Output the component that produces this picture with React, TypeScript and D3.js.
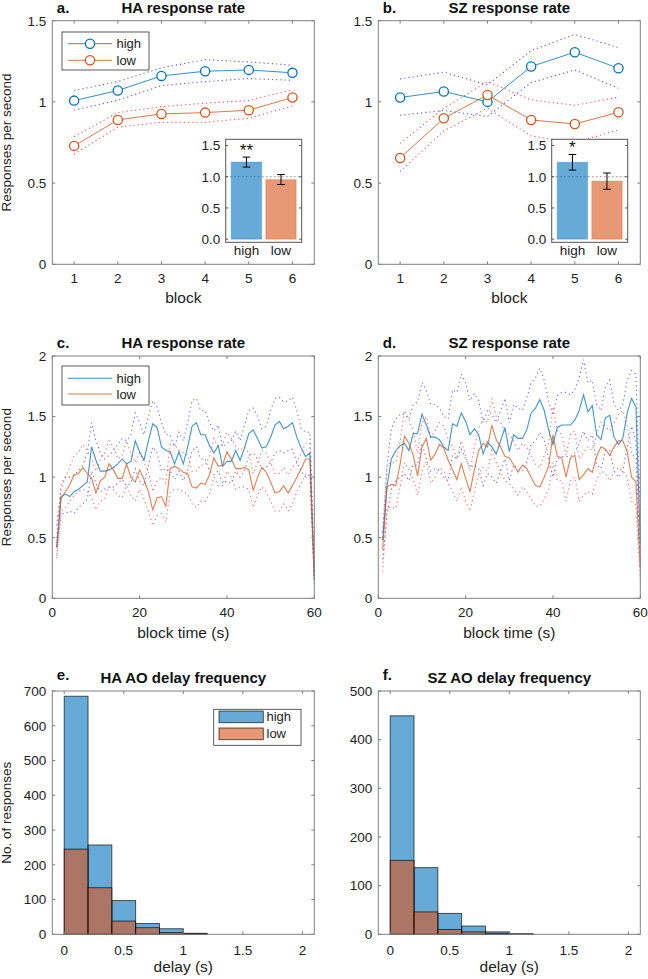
import React from 'react';
import * as d3 from 'd3';

// ---------------- data ----------------
const blocks = [1, 2, 3, 4, 5, 6];
const haHighMean = [1.008, 1.07, 1.16, 1.189, 1.197, 1.179];
const haHighUpper = [1.07, 1.125, 1.21, 1.26, 1.246, 1.226];
const haHighLower = [0.95, 1.01, 1.1, 1.125, 1.144, 1.133];
const haLowMean = [0.729, 0.889, 0.926, 0.934, 0.949, 1.027];
const haLowUpper = [0.786, 0.934, 0.971, 0.992, 1.008, 1.074];
const haLowLower = [0.678, 0.844, 0.875, 0.875, 0.899, 0.975];

const szHighMean = [1.027, 1.064, 1.0, 1.218, 1.306, 1.207];
const szHighUpper = [1.142, 1.183, 1.105, 1.316, 1.415, 1.335];
const szHighLower = [0.918, 0.947, 0.91, 1.119, 1.197, 1.084];
const szLowMean = [0.655, 0.899, 1.043, 0.889, 0.864, 0.936];
const szLowUpper = [0.745, 0.961, 1.125, 1.012, 0.979, 1.029];
const szLowLower = [0.571, 0.821, 0.961, 0.79, 0.749, 0.828];

const conditions = ['high', 'low'];
const haBarMean = [1.235, 0.955];
const haBarSem = [0.08, 0.08];
const szBarMean = [1.232, 0.93];
const szBarSem = [0.125, 0.13];

const seconds = d3.range(1, 61);

const cHighMean = [0.42,0.84,0.86,0.84,0.88,0.90,0.93,0.96,1.25,1.14, 1.05,1.05,1.06,1.08,1.11,1.15,1.11,1.13,1.30,1.21, 1.14,1.30,1.44,1.41,1.25,1.22,1.21,1.11,1.21,1.11, 1.25,1.42,1.45,1.35,1.35,1.26,1.20,1.26,1.09,1.13, 1.13,1.22,1.14,1.24,1.36,1.39,1.32,1.24,1.25,1.33, 1.43,1.46,1.40,1.42,1.45,1.33,1.24,1.17,1.20,0.15];
const cHighUpper = [0.60,0.90,1.00,1.00,1.02,1.05,1.10,1.20,1.45,1.30, 1.20,1.15,1.18,1.22,1.27,1.32,1.30,1.35,1.53,1.45, 1.35,1.50,1.63,1.58,1.45,1.35,1.35,1.25,1.37,1.30, 1.45,1.63,1.65,1.55,1.55,1.45,1.38,1.43,1.25,1.28, 1.30,1.38,1.30,1.43,1.55,1.57,1.50,1.40,1.42,1.55, 1.65,1.66,1.62,1.63,1.66,1.55,1.40,1.37,1.37,0.25];
const cHighLower = [0.35,0.70,0.70,0.72,0.70,0.75,0.78,0.82,1.05,0.95, 0.88,0.90,0.92,0.92,0.95,0.98,0.93,0.95,1.07,0.97, 0.93,1.10,1.25,1.20,1.05,1.07,1.05,0.98,1.05,0.97, 1.05,1.22,1.25,1.15,1.15,1.05,1.02,1.05,0.95,0.97, 0.95,1.05,1.00,1.05,1.18,1.20,1.15,1.07,1.08,1.12, 1.20,1.22,1.20,1.22,1.23,1.12,1.05,1.00,1.02,0.12];
const cLowMean = [0.42,0.82,0.88,0.94,1.02,1.03,1.08,1.03,0.99,0.87, 0.97,1.00,1.11,1.06,0.99,0.99,1.11,1.00,0.96,1.06, 0.98,0.88,0.73,0.83,0.84,0.76,1.07,1.09,1.07,1.04, 1.03,0.92,0.91,0.95,0.94,1.02,1.16,1.09,1.10,1.21, 1.15,1.07,1.07,1.08,1.06,0.89,1.00,1.08,1.04,0.96, 0.87,0.88,0.93,0.87,0.93,1.00,1.07,1.15,1.15,0.18];
const cLowUpper = [0.50,0.95,1.00,1.08,1.18,1.20,1.27,1.22,1.15,1.05, 1.15,1.20,1.30,1.25,1.15,1.18,1.30,1.20,1.12,1.20, 1.12,1.05,0.88,0.97,1.00,0.95,1.28,1.27,1.22,1.20, 1.18,1.05,1.05,1.10,1.10,1.17,1.32,1.25,1.27,1.37, 1.32,1.25,1.22,1.25,1.20,1.03,1.12,1.22,1.20,1.12, 1.03,1.03,1.08,1.02,1.08,1.12,1.20,1.28,1.28,0.22];
const cLowLower = [0.33,0.72,0.75,0.80,0.85,0.88,0.90,0.88,0.83,0.73, 0.80,0.82,0.92,0.90,0.85,0.83,0.93,0.85,0.80,0.90, 0.82,0.72,0.60,0.68,0.70,0.63,0.88,0.90,0.90,0.88, 0.86,0.78,0.75,0.80,0.80,0.86,1.00,0.93,0.93,1.05, 1.00,0.90,0.92,0.92,0.90,0.75,0.85,0.92,0.88,0.80, 0.72,0.72,0.78,0.72,0.78,0.88,0.95,1.02,1.02,0.15];

const dHighMean = [0.48,0.93,1.15,1.22,1.26,1.28,1.22,1.36,1.36,1.52, 1.43,1.33,1.33,1.31,1.25,1.22,1.44,1.42,1.53,1.46, 1.35,1.40,1.35,1.19,1.29,1.25,1.19,1.30,1.41,1.21, 1.35,1.32,1.32,1.39,1.53,1.57,1.64,1.55,1.39,1.27, 1.41,1.43,1.43,1.43,1.47,1.55,1.68,1.54,1.59,1.35, 1.31,1.49,1.51,1.33,1.27,1.32,1.53,1.65,1.58,0.45];
const dHighUpper = [0.55,1.10,1.40,1.48,1.52,1.52,1.48,1.60,1.62,1.78, 1.72,1.60,1.60,1.57,1.50,1.48,1.72,1.70,1.85,1.78, 1.63,1.69,1.63,1.45,1.55,1.52,1.45,1.55,1.65,1.45, 1.60,1.57,1.55,1.65,1.78,1.82,1.90,1.80,1.62,1.53, 1.67,1.70,1.70,1.68,1.72,1.82,1.97,1.78,1.80,1.60, 1.55,1.75,1.80,1.60,1.55,1.60,1.80,1.88,1.85,0.65];
const dHighLower = [0.32,0.68,0.90,0.97,1.00,1.03,0.97,1.10,1.10,1.28, 1.15,1.05,1.07,1.05,1.00,0.97,1.18,1.15,1.23,1.15, 1.08,1.10,1.07,0.93,1.03,1.00,0.95,1.05,1.15,0.97, 1.10,1.07,1.05,1.12,1.27,1.30,1.37,1.30,1.15,1.00, 1.15,1.17,1.17,1.17,1.20,1.28,1.38,1.30,1.35,1.10, 1.07,1.22,1.22,1.05,1.00,1.05,1.25,1.42,1.30,0.25];
const dLowMean = [0.40,0.92,0.94,0.93,1.11,1.34,1.28,1.18,1.01,1.25, 1.32,1.14,1.19,1.27,1.24,1.14,1.06,0.98,1.11,0.99, 0.88,1.06,1.22,1.28,1.25,1.43,1.31,1.25,1.17,1.16, 1.10,1.04,1.10,1.07,1.00,0.93,0.92,1.00,1.09,1.35, 1.17,1.16,1.00,1.16,1.18,0.98,1.02,1.07,1.04,1.17, 1.25,1.23,1.18,1.25,1.30,1.30,1.21,1.00,0.96,0.25];
const dLowUpper = [0.50,1.10,1.12,1.12,1.30,1.55,1.48,1.38,1.20,1.45, 1.50,1.33,1.38,1.45,1.42,1.32,1.25,1.15,1.30,1.18, 1.05,1.25,1.40,1.48,1.45,1.65,1.50,1.45,1.38,1.35, 1.30,1.22,1.28,1.25,1.18,1.10,1.08,1.18,1.28,1.58, 1.38,1.35,1.18,1.35,1.38,1.15,1.20,1.25,1.22,1.35, 1.45,1.42,1.38,1.45,1.52,1.55,1.42,1.20,1.15,0.35];
const dLowLower = [0.22,0.75,0.75,0.74,0.92,1.12,1.07,0.98,0.85,1.05, 1.13,0.95,1.00,1.08,1.05,0.95,0.88,0.80,0.92,0.80, 0.72,0.88,1.03,1.08,1.05,1.22,1.12,1.05,0.97,0.95, 0.90,0.85,0.92,0.88,0.82,0.76,0.76,0.82,0.90,1.12, 0.97,0.97,0.80,0.97,1.00,0.80,0.85,0.88,0.86,0.98, 1.05,1.03,0.97,1.05,1.08,1.05,1.00,0.80,0.77,0.15];

const binEdges = [0, 0.2, 0.4, 0.6, 0.8, 1.0, 1.2];
const eHighCounts = [685, 257, 97, 31, 16, 3];
const eLowCounts = [245, 134, 38, 19, 5, 2];
const fHighCounts = [449, 137, 43, 17, 5, 1];
const fLowCounts = [152, 46, 10, 5, 2, 0.5];

const blockTicks = [1, 2, 3, 4, 5, 6];
const rateTicks = [0, 0.5, 1, 1.5];
const rate2Ticks = [0, 0.5, 1, 1.5, 2];
const timeTicks = [0, 20, 40, 60];
const insetTicks = [0, 0.5, 1, 1.5];
const delayTicks = [0, 0.5, 1, 1.5, 2];
const eCountTicks = [0, 100, 200, 300, 400, 500, 600, 700];
const fCountTicks = [0, 100, 200, 300, 400, 500];

// ---------------- style ----------------
const FONT = '"Liberation Sans", Arial, Helvetica, sans-serif';
const TXT = '#222';
const BOX = '#808080';
const BLUE = '#0072BD';
const ORANGE = '#D95319';
const DOT_BLUE = '#3a3aff';
const DOT_RED = '#ff3a3a';

const COLS = [{ l: 52.3, r: 314.3 }, { l: 378.3, r: 640.3 }];
const ROWS = [{ t: 20.7, b: 264.3 }, { t: 356, b: 598.3 }, { t: 691, b: 934.3 }];

function Frame({ x, y, xTicks, yTicks, fx, fy, xLabelOff = 19, tick = 3, stroke = BOX, fs = 13.5 }: any) {
  const [x0, x1] = x.range();
  const [y0, y1] = y.range();
  return (
    <g>
      <rect x={x0} y={y1} width={x1 - x0} height={y0 - y1} fill="none" stroke={stroke} strokeWidth={1} />
      {xTicks.map((t: number) => (
        <g key={'x' + t}>
          <line x1={x(t)} x2={x(t)} y1={y0} y2={y0 - tick} stroke={stroke} />
          <line x1={x(t)} x2={x(t)} y1={y1} y2={y1 + tick} stroke={stroke} />
          {fx && (
            <text x={x(t)} y={y0 + xLabelOff} textAnchor="middle" fontSize={fs} fill={TXT}>
              {fx(t)}
            </text>
          )}
        </g>
      ))}
      {yTicks.map((t: number) => (
        <g key={'y' + t}>
          <line x1={x0} x2={x0 + tick} y1={y(t)} y2={y(t)} stroke={stroke} />
          <line x1={x1} x2={x1 - tick} y1={y(t)} y2={y(t)} stroke={stroke} />
          <text x={x0 - 6} y={y(t) + 4.8} textAnchor="end" fontSize={fs} fill={TXT}>
            {fy(t)}
          </text>
        </g>
      ))}
    </g>
  );
}

function Title({ left, right, top, letter, text, letterUp = 0 }: any) {
  const by = Math.max(top - 8, 13);
  return (
    <g fontWeight="bold" fill="#111">
      <text x={left + 4.5} y={by - letterUp} fontSize={15}>{letter}</text>
      <text x={(left + right) / 2} y={by} fontSize={15} textAnchor="middle">{text}</text>
    </g>
  );
}

function plain(t: number) {
  return String(t);
}

function BlockPanel({ col, letter, title, hm, hu, hl, lm, lu, ll, bars, sems, stars, legend, ylabel }: any) {
  const { l, r } = COLS[col];
  const { t, b } = ROWS[0];
  const x = d3.scaleLinear().domain([0.5, 6.5]).range([l, r]);
  const y = d3.scaleLinear().domain([0, 1.5]).range([b, t]);
  const line = d3.line<number>().x((_, i) => x(blocks[i])).y((d) => y(d));
  // inset
  const il = l + 173.4, ir = l + 249.4, it = 139.3, ib = 242.3;
  const ix = d3.scaleLinear().domain([0.4, 2.6]).range([il, ir]);
  const iy = d3.scaleLinear().domain([-0.05, 1.6]).range([ib, it]);
  const bw = ix(0.88) - ix(0);
  const barCols = [BLUE, ORANGE];
  return (
    <g>
      <Title left={l} right={r} top={t} letter={letter} text={title} />
      <g fill="none" strokeWidth={1.1} strokeDasharray="1.2,3" strokeOpacity={0.85}>
        <path d={line(hu)!} stroke={DOT_BLUE} />
        <path d={line(hl)!} stroke={DOT_BLUE} />
        <path d={line(lu)!} stroke={DOT_RED} />
        <path d={line(ll)!} stroke={DOT_RED} />
      </g>
      <path d={line(hm)!} fill="none" stroke={BLUE} strokeOpacity={0.8} strokeWidth={1} />
      <path d={line(lm)!} fill="none" stroke={ORANGE} strokeOpacity={0.8} strokeWidth={1} />
      {hm.map((v: number, i: number) => (
        <circle key={'h' + i} cx={x(blocks[i])} cy={y(v)} r={4.6} fill="#fff" stroke={BLUE} strokeWidth={1.3} />
      ))}
      {lm.map((v: number, i: number) => (
        <circle key={'l' + i} cx={x(blocks[i])} cy={y(v)} r={4.6} fill="#fff" stroke={ORANGE} strokeWidth={1.3} />
      ))}
      <Frame x={x} y={y} xTicks={blockTicks} yTicks={rateTicks} fx={plain} fy={plain} />
      <text x={(l + r) / 2} y={b + 39} textAnchor="middle" fontSize={15.5} fill={TXT}>block</text>
      {ylabel && (
        <text transform={`translate(10.5,${(t + b) / 2}) rotate(-90)`} textAnchor="middle" fontSize={13.5} fill={TXT}>
          Responses per second
        </text>
      )}
      {legend && (
        <g>
          <rect x={62} y={32} width={87} height={38} fill="#fff" stroke="#333" strokeWidth={0.8} />
          {[
            { c: BLUE, yy: 43.7, lab: 'high' },
            { c: ORANGE, yy: 60.3, lab: 'low' },
          ].map((g) => (
            <g key={g.lab}>
              <line x1={68} x2={112} y1={g.yy} y2={g.yy} stroke={g.c} strokeOpacity={0.8} />
              <circle cx={90} cy={g.yy} r={4.6} fill="#fff" stroke={g.c} strokeWidth={1.3} />
              <text x={116.5} y={g.yy + 4.6} fontSize={13} fill={TXT}>{g.lab}</text>
            </g>
          ))}
        </g>
      )}
      {/* inset */}
      <rect x={il} y={it} width={ir - il} height={ib - it} fill="#fff" />
      <line x1={il} x2={ir} y1={iy(1)} y2={iy(1)} stroke="#999" strokeDasharray="2,2" />
      {bars.map((v: number, i: number) => (
        <rect key={'b' + i} x={ix(i + 1) - bw / 2} y={iy(v)} width={bw} height={iy(0) - iy(v)} fill={barCols[i]} fillOpacity={0.6} stroke={barCols[i]} strokeOpacity={0.25} strokeWidth={1.2} />
      ))}
      {bars.map((v: number, i: number) => (
        <g key={'e' + i} stroke="#000" strokeWidth={1}>
          <line x1={ix(i + 1)} x2={ix(i + 1)} y1={iy(v - sems[i])} y2={iy(v + sems[i])} />
          <line x1={ix(i + 1) - 3.8} x2={ix(i + 1) + 3.8} y1={iy(v - sems[i])} y2={iy(v - sems[i])} />
          <line x1={ix(i + 1) - 3.8} x2={ix(i + 1) + 3.8} y1={iy(v + sems[i])} y2={iy(v + sems[i])} />
        </g>
      ))}
      <text x={ix(1)} y={iy(bars[0] + sems[0]) - 1} textAnchor="middle" fontSize={17} fill="#111">{stars}</text>
      <rect x={il} y={it} width={ir - il} height={ib - it} fill="none" stroke="#555" strokeWidth={1} />
      {insetTicks.map((v) => (
        <g key={'it' + v}>
          <line x1={il} x2={il + 2.5} y1={iy(v)} y2={iy(v)} stroke="#555" />
          <line x1={ir} x2={ir - 2.5} y1={iy(v)} y2={iy(v)} stroke="#555" />
          <text x={il - 5.5} y={iy(v) + 4.8} textAnchor="end" fontSize={13.5} fill={TXT}>{v.toFixed(1)}</text>
        </g>
      ))}
      {conditions.map((c, i) => (
        <text key={c} x={ix(i + 1)} y={ib + 12.5} textAnchor="middle" fontSize={13.5} fill={TXT}>{c}</text>
      ))}
    </g>
  );
}

function TimePanel({ col, letter, title, hm, hu, hl, lm, lu, ll, legend, ylabel }: any) {
  const { l, r } = COLS[col];
  const { t, b } = ROWS[1];
  const x = d3.scaleLinear().domain([0, 60]).range([l, r]);
  const y = d3.scaleLinear().domain([0, 2]).range([b, t]);
  const line = d3.line<number>().x((_, i) => x(seconds[i])).y((d) => y(d));
  return (
    <g>
      <Title left={l} right={r} top={t} letter={letter} text={title} />
      <g fill="none" strokeWidth={1.1} strokeDasharray="1.2,3.2" strokeOpacity={0.75}>
        <path d={line(hu)!} stroke={DOT_BLUE} />
        <path d={line(hl)!} stroke={DOT_BLUE} />
        <path d={line(lu)!} stroke={DOT_RED} />
        <path d={line(ll)!} stroke={DOT_RED} />
      </g>
      <path d={line(hm)!} fill="none" stroke={BLUE} strokeOpacity={0.75} strokeWidth={1.1} />
      <path d={line(lm)!} fill="none" stroke={ORANGE} strokeOpacity={0.75} strokeWidth={1.1} />
      <Frame x={x} y={y} xTicks={timeTicks} yTicks={rate2Ticks} fx={plain} fy={plain} />
      <text x={(l + r) / 2} y={b + 39.5} textAnchor="middle" fontSize={15.5} fill={TXT}>block time (s)</text>
      {ylabel && (
        <text transform={`translate(10.5,${(t + b) / 2}) rotate(-90)`} textAnchor="middle" fontSize={13.5} fill={TXT}>
          Responses per second
        </text>
      )}
      {legend && (
        <g>
          <rect x={62} y={366} width={87} height={39} fill="#fff" stroke="#333" strokeWidth={0.8} />
          {[
            { c: BLUE, yy: 378.3, lab: 'high' },
            { c: ORANGE, yy: 394, lab: 'low' },
          ].map((g) => (
            <g key={g.lab}>
              <line x1={68} x2={112} y1={g.yy} y2={g.yy} stroke={g.c} strokeOpacity={0.8} strokeWidth={1.1} />
              <text x={116.5} y={g.yy + 4.6} fontSize={13} fill={TXT}>{g.lab}</text>
            </g>
          ))}
        </g>
      )}
    </g>
  );
}

function HistPanel({ col, letter, title, high, low, ymax, yTicks, legend, ylabel }: any) {
  const { l, r } = COLS[col];
  const { t, b } = ROWS[2];
  const x = d3.scaleLinear().domain([-0.1, 2.1]).range([l, r]);
  const y = d3.scaleLinear().domain([0, ymax]).range([b, t]);
  const bars = (counts: number[], c: string) =>
    counts.map((v, i) => (
      <rect key={c + i} x={x(binEdges[i])} y={y(v)} width={x(binEdges[i + 1]) - x(binEdges[i])} height={y(0) - y(v)}
        fill={c} fillOpacity={0.6} stroke="#000" strokeOpacity={0.7} strokeWidth={0.9} />
    ));
  return (
    <g>
      <Title left={l} right={r} top={t} letter={letter} text={title} letterUp={3} />
      {bars(high, BLUE)}
      {bars(low, ORANGE)}
      <Frame x={x} y={y} xTicks={delayTicks} yTicks={yTicks} fx={plain} fy={plain} xLabelOff={20.5} />
      <text x={(l + r) / 2} y={b + 38} textAnchor="middle" fontSize={15.5} fill={TXT}>delay (s)</text>
      {ylabel && (
        <text transform={`translate(10.5,${(t + b) / 2}) rotate(-90)`} textAnchor="middle" fontSize={13.5} fill={TXT}>
          No. of responses
        </text>
      )}
      {legend && (
        <g>
          <rect x={213.7} y={709.3} width={87.3} height={36} fill="#fff" stroke="#333" strokeWidth={0.8} />
          {[
            { c: BLUE, yy: 711, lab: 'high' },
            { c: ORANGE, yy: 728, lab: 'low' },
          ].map((g) => (
            <g key={g.lab}>
              <rect x={219} y={g.yy} width={44.3} height={11.7} fill={g.c} fillOpacity={0.6} stroke="#000" strokeOpacity={0.7} strokeWidth={0.9} />
              <text x={266.5} y={g.yy + 10.3} fontSize={13} fill={TXT}>{g.lab}</text>
            </g>
          ))}
        </g>
      )}
    </g>
  );
}

export default function App() {
  return (
    <svg width={648} height={979} viewBox="0 0 648 979" style={{ position: 'absolute', left: 0, top: 0, background: '#fff' }} fontFamily={FONT}>
      <rect x={0} y={0} width={648} height={979} fill="#fff" />
      <BlockPanel col={0} letter="a." title="HA response rate" hm={haHighMean} hu={haHighUpper} hl={haHighLower}
        lm={haLowMean} lu={haLowUpper} ll={haLowLower} bars={haBarMean} sems={haBarSem} stars="**" legend ylabel />
      <BlockPanel col={1} letter="b." title="SZ response rate" hm={szHighMean} hu={szHighUpper} hl={szHighLower}
        lm={szLowMean} lu={szLowUpper} ll={szLowLower} bars={szBarMean} sems={szBarSem} stars="*" />
      <TimePanel col={0} letter="c." title="HA response rate" hm={cHighMean} hu={cHighUpper} hl={cHighLower}
        lm={cLowMean} lu={cLowUpper} ll={cLowLower} legend ylabel />
      <TimePanel col={1} letter="d." title="SZ response rate" hm={dHighMean} hu={dHighUpper} hl={dHighLower}
        lm={dLowMean} lu={dLowUpper} ll={dLowLower} />
      <HistPanel col={0} letter="e." title="HA AO delay frequency" high={eHighCounts} low={eLowCounts} ymax={700}
        yTicks={eCountTicks} legend ylabel />
      <HistPanel col={1} letter="f." title="SZ AO delay frequency" high={fHighCounts} low={fLowCounts} ymax={500}
        yTicks={fCountTicks} />
    </svg>
  );
}
